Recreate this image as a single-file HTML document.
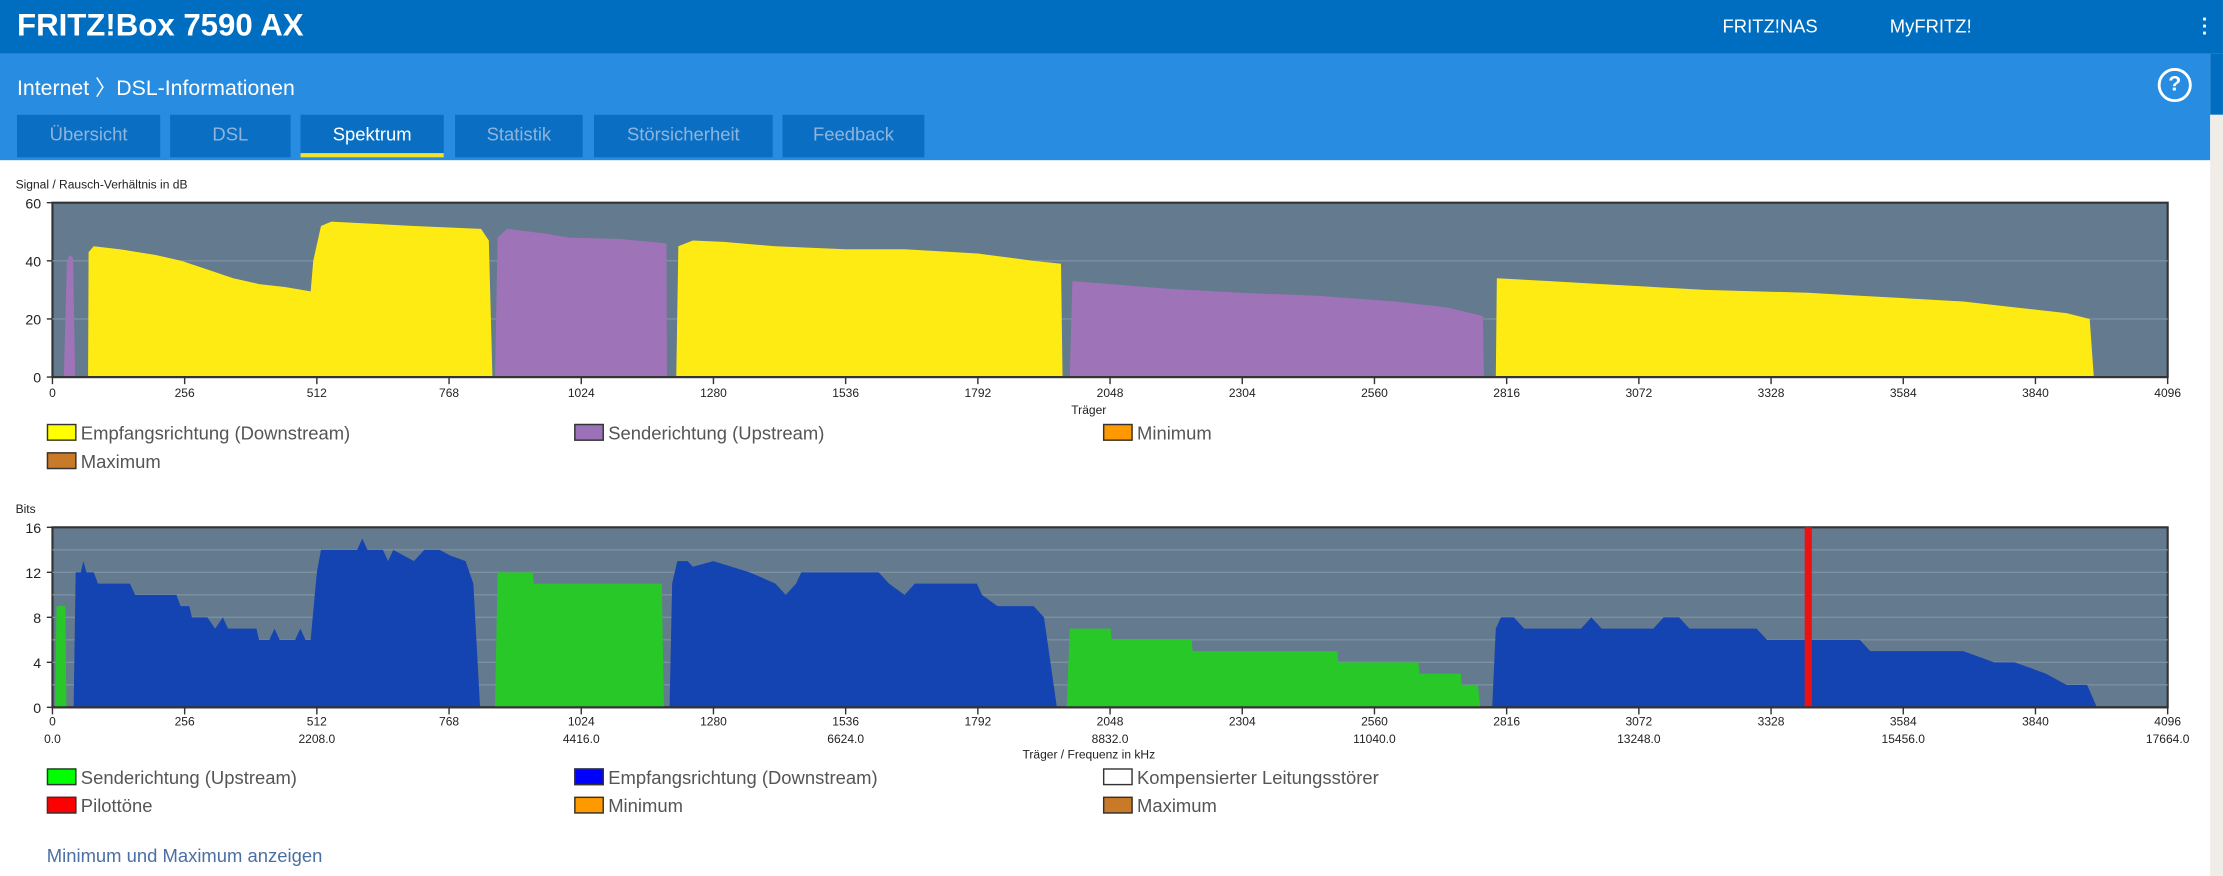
<!DOCTYPE html>
<html><head><meta charset="utf-8">
<style>
html,body{margin:0;padding:0;width:2223px;height:876px;overflow:hidden;background:#fff;font-family:"Liberation Sans",sans-serif}
#wrap{position:absolute;left:0;top:0;width:1568px;height:618px;transform:scale(1.4177,1.4175);transform-origin:0 0}
.abs{position:absolute}
.hdr{left:0;top:0;width:1568px;height:38px;background:#006ec0}
.band{left:0;top:38px;width:1559px;height:75px;background:#288ce0}
.tab{top:81px;height:30px;background:#0a6fc2;color:#8fb4dc;font-size:13px;line-height:28px;text-align:center}
.tab.on{color:#fff;border-bottom:3px solid #f0e030;height:27px}
.lg{font-size:13px;color:#555;white-space:nowrap}
.lg i{display:inline-block;width:19px;height:10px;border:1px solid #333;vertical-align:-1px;margin-right:3px}
svg text{font-family:"Liberation Sans",sans-serif}
</style></head><body>
<div id="wrap">
<div class="abs hdr"></div>
<div class="abs" style="left:12px;top:5px;color:#fff;font-size:22px;font-weight:bold">FRITZ!Box 7590 AX</div>
<div class="abs" style="left:1215px;top:11px;color:#fff;font-size:13px">FRITZ!NAS</div>
<div class="abs" style="left:1333px;top:11px;color:#fff;font-size:13px">MyFRITZ!</div>
<div class="abs" style="left:1553px;top:11px;width:4px;color:#fff;font-size:14px;line-height:5px;font-weight:bold">·<br>·<br>·</div>
<div class="abs band"></div>
<div class="abs" style="left:1559px;top:38px;width:9px;height:43px;background:#006ec0"></div>
<div class="abs" style="left:1559px;top:81px;width:9px;height:537px;background:#f0ede8"></div>
<div class="abs" style="left:12px;top:51px;color:#fff;font-size:15px">Internet 〉DSL-Informationen</div>
<div class="abs" style="left:1522px;top:48px;width:20px;height:20px;border:2px solid #fff;border-radius:50%;color:#fff;font-size:15px;font-weight:bold;text-align:center;line-height:20px">?</div>
<div class="abs tab" style="left:12px;width:101px">Übersicht</div>
<div class="abs tab" style="left:120px;width:85px">DSL</div>
<div class="abs tab on" style="left:212px;width:101px">Spektrum</div>
<div class="abs tab" style="left:321px;width:90px">Statistik</div>
<div class="abs tab" style="left:419px;width:126px">Störsicherheit</div>
<div class="abs tab" style="left:552px;width:100px">Feedback</div>

<svg class="abs" style="left:0;top:113px" width="1559" height="430" id="charts"></svg>

<div class="abs lg" style="left:33px;top:298px"><i style="background:#ffff00"></i>Empfangsrichtung (Downstream)</div>
<div class="abs lg" style="left:405px;top:298px"><i style="background:#9b72b8"></i>Senderichtung (Upstream)</div>
<div class="abs lg" style="left:778px;top:298px"><i style="background:#ff9900"></i>Minimum</div>
<div class="abs lg" style="left:33px;top:318px"><i style="background:#c87a28"></i>Maximum</div>

<div class="abs lg" style="left:33px;top:541px"><i style="background:#00ff00"></i>Senderichtung (Upstream)</div>
<div class="abs lg" style="left:405px;top:541px"><i style="background:#0000ff"></i>Empfangsrichtung (Downstream)</div>
<div class="abs lg" style="left:778px;top:541px"><i style="background:#fff"></i>Kompensierter Leitungsstörer</div>
<div class="abs lg" style="left:33px;top:561px"><i style="background:#ff0000"></i>Pilottöne</div>
<div class="abs lg" style="left:405px;top:561px"><i style="background:#ff9900"></i>Minimum</div>
<div class="abs lg" style="left:778px;top:561px"><i style="background:#c87a28"></i>Maximum</div>
<div class="abs" style="left:33px;top:596px;font-size:13px;color:#4a6fa5">Minimum und Maximum anzeigen</div>
</div>
<script>
const xTicks=[0,256,512,768,1024,1280,1536,1792,2048,2304,2560,2816,3072,3328,3584,3840,4096];
const freqLabels=["0.0","2208.0","4416.0","6624.0","8832.0","11040.0","13248.0","15456.0","17664.0"];
const snrTicks=[0,20,40,60];
const bitTicks=[0,4,8,12,16];
const snrDown=[
 [[69,0],[70,43],[80,45],[130,44],[200,42],[250,40],[300,37],[350,34],[400,32],[450,31],[500,29.5],[505,40],[520,52],[540,53.5],[700,52],[830,51],[845,47],[852,0]],
 [[1208,0],[1212,45],[1240,47],[1300,46.5],[1400,45],[1536,44],[1650,44],[1792,42.5],[1900,40],[1953,39],[1956,0]],
 [[2795,0],[2797,34],[2900,33],[3000,32],[3100,31],[3200,30],[3300,29.5],[3400,29],[3500,28],[3600,27],[3700,26],[3800,24],[3900,22],[3945,20],[3953,0]]];
const snrUp=[
 [[22,0],[28,40],[34,42],[40,41],[44,0]],
 [[857,0],[862,48],[880,51],[950,49.5],[1000,48],[1100,47.5],[1189,46],[1190,0]],
 [[1970,0],[1975,33],[2050,32],[2150,30.5],[2300,29],[2450,28],[2600,26],[2700,24],[2770,21],[2772,0]]];
const bitsUp=[
 [[5,0],[8,9],[25,9],[27,0]],
 [[857,0],[862,12],[930,12],[932,11],[1180,11],[1184,0]],
 [[1964,0],[1970,7],[2049,7],[2051,6],[2206,6],[2208,5],[2488,5],[2490,4],[2645,4],[2647,3],[2727,3],[2729,2],[2760,2],[2765,0]]];
const bitsDown=[
 [[41,0],[45,12],[55,12],[60,13],[66,12],[80,12],[88,11],[150,11],[160,10],[240,10],[248,9],[265,9],[270,8],[300,8],[315,7],[330,8],[340,7],[395,7],[400,6],[420,6],[430,7],[440,6],[470,6],[480,7],[490,6],[500,6],[512,12],[520,14],[590,14],[600,15],[610,14],[640,14],[650,13],[660,14],[700,13],[720,14],[750,14],[770,13.5],[800,13],[815,11],[828,0]],
 [[1195,0],[1200,11],[1210,13],[1230,13],[1240,12.5],[1280,13],[1350,12],[1400,11],[1420,10],[1440,11],[1450,12],[1600,12],[1620,11],[1650,10],[1670,11],[1790,11],[1800,10],[1830,9],[1900,9],[1920,8],[1945,0]],
 [[2788,0],[2795,7],[2805,8],[2830,8],[2850,7],[2960,7],[2980,8],[3000,7],[3100,7],[3120,8],[3150,8],[3170,7],[3300,7],[3320,6],[3390,6],[3430,6],[3500,6],[3520,5],[3600,5],[3700,5],[3760,4],[3800,4],[3860,3],[3900,2],[3940,2],[3959,0]]];
const pilots=[3400];

const NS='http://www.w3.org/2000/svg';
const svg=document.getElementById('charts');
function mk(t,a,p){const e=document.createElementNS(NS,t);for(const k in a)e.setAttribute(k,a[k]);(p||svg).appendChild(e);return e;}
const X0=37,X1=1529;
function xs(c){return X0+c/4096*(X1-X0);}
function chart(top,bottom,maxV,ticks,minor,lblOff){
  const ys=v=>bottom-v/maxV*(bottom-top);
  const bg=mk('rect',{x:X0,y:top,width:X1-X0,height:bottom-top,fill:'#647a8e',stroke:'#333','stroke-width':1.5});
  
  
  minor.forEach(v=>{const l=mk('line',{x1:X0,x2:X1,y1:ys(v),y2:ys(v),stroke:'#7d90a2','stroke-width':1});
    
    });
  ticks.forEach(v=>{const t=mk('text',{x:X0-8,y:ys(v)+4,'text-anchor':'end','font-size':10,fill:'#222'});t.textContent=v;
    
    
    mk('line',{x1:X0-4,x2:X0,y1:ys(v),y2:ys(v),stroke:'#333'});});
  xTicks.forEach(v=>{mk('line',{x1:xs(v),x2:xs(v),y1:bottom,y2:bottom+5,stroke:'#333'});
    const t=mk('text',{x:xs(v),y:bottom+lblOff,'text-anchor':'middle','font-size':8.5,fill:'#222'});t.textContent=v;
    
    });
  return ys;
}
function area(segs,ys,fill,name){segs.forEach(s=>{
  const p=mk('polygon',{points:s.map(d=>xs(d[0])+','+ys(d[1])).join(' '),fill:fill});
  
  });}
let t=mk('text',{x:11,y:20,'font-size':8.5,fill:'#222'});t.textContent='Signal / Rausch-Verhältnis in dB';


const ys1=chart(30,153,60,snrTicks,[20,40],14);
area(snrDown,ys1,'#ffeb14','snr-downstream-area');
area(snrUp,ys1,'#9e73b8','snr-upstream-area');
mk('line',{x1:X0,x2:X1,y1:153,y2:153,stroke:'#333','stroke-width':1.5});
t=mk('text',{x:768,y:179,'text-anchor':'middle','font-size':8.5,fill:'#222'});t.textContent='Träger';


t=mk('text',{x:11,y:249,'font-size':8.5,fill:'#222'});t.textContent='Bits';


const ys2=chart(259,386,16,bitTicks,[2,4,6,8,10,12,14],13);
area(bitsUp,ys2,'#29c829','bits-upstream-area');
area(bitsDown,ys2,'#1443b2','bits-downstream-area');
pilots.forEach(c=>{const r=mk('rect',{x:xs(c)-2.5,y:ys2(16),width:5,height:ys2(0)-ys2(16),fill:'#ee1111'});
  
  });
mk('line',{x1:X0,x2:X1,y1:386,y2:386,stroke:'#333','stroke-width':1.5});
freqLabels.forEach((f,i)=>{const e=mk('text',{x:xs(i*512),y:411,'text-anchor':'middle','font-size':8.5,fill:'#222'});e.textContent=f;
  
  });
t=mk('text',{x:768,y:422,'text-anchor':'middle','font-size':8.5,fill:'#222'});t.textContent='Träger / Frequenz in kHz';


</script>
</body></html>
